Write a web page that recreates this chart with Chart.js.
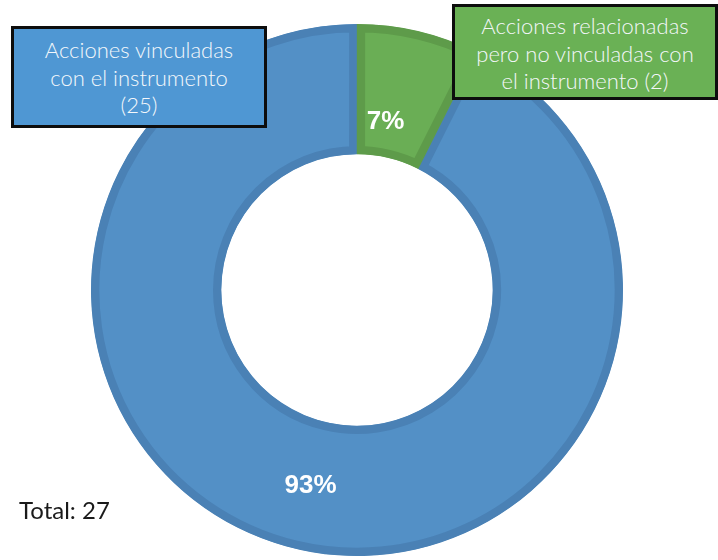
<!DOCTYPE html>
<html>
<head>
<meta charset="utf-8">
<script src="https://cdn.jsdelivr.net/npm/chart.js@4"></script>
<style>
  html, body { margin: 0; padding: 0; background: #fff; }
  #wrap { position: relative; width: 718px; height: 560px; overflow: hidden; }
  canvas { position: absolute; left: 0; top: 0; }
  .caja {
    position: absolute; box-sizing: border-box; border: 3px solid #0d0d0d;
    color: #f4f7fb; font-family: "Lato", "Open Sans", sans-serif; font-weight: 300;
    font-size: 22px; line-height: 27.5px; text-align: center;
  }
  #total {
    position: absolute; left: 19px; top: 495px; font-family: "Lato", "Open Sans", sans-serif;
    font-size: 24px; color: #1a1a1a;
  }
</style>
</head>
<body>
<div id="wrap">
  <canvas id="dona" width="718" height="560"></canvas>
  <div class="caja" id="caja0" style="left:11px;top:26px;width:256px;height:102px;padding-top:7px;background:#4f97d3;"></div>
  <div class="caja" id="caja1" style="left:452px;top:4px;width:266px;height:96px;padding-top:5px;background:#6ab155;"></div>
  <div id="total"></div>
</div>
<script>
// ----------------------------
// Datos
// ----------------------------
const categorias = ['Acciones vinculadas con el instrumento', 'Acciones relacionadas pero no vinculadas con el instrumento'];
const etiquetasCaja = [
  ['Acciones vinculadas', 'con el instrumento', '(25)'],
  ['Acciones relacionadas', 'pero no vinculadas con', 'el instrumento (2)']
];
const valores = [25, 2];

const total = valores.reduce((a, b) => a + b, 0);
const porcentajes = valores.map(v => Math.round(v / total * 100) + '%');

// colores de relleno y borde
const relleno = ['#5390c6', '#6aae55'];
const borde = ['#4a81b5', '#5e9b4a'];

// posición de cada porcentaje dentro de su sector (fracción del ángulo y del grosor)
const posAngulo = [0.5, 0.36];
const posRadio = [0.5, 0.27];

// ----------------------------
// Cajas de texto y total
// ----------------------------
etiquetasCaja.forEach((lineas, i) => {
  document.getElementById('caja' + i).innerHTML = lineas.join('<br>');
});
document.getElementById('total').textContent = 'Total: ' + total;

// ----------------------------
// Plugin: porcentajes sobre los sectores
// ----------------------------
const porcentajesPlugin = {
  id: 'porcentajes',
  afterDatasetsDraw(chart) {
    const ctx = chart.ctx;
    const meta = chart.getDatasetMeta(0);
    ctx.save();
    ctx.font = 'bold 26px "Liberation Sans", Arial, sans-serif';
    ctx.fillStyle = '#ffffff';
    ctx.textAlign = 'center';
    ctx.textBaseline = 'middle';
    meta.data.forEach((arc, i) => {
      const p = arc.getProps(['x', 'y', 'startAngle', 'endAngle', 'innerRadius', 'outerRadius'], true);
      const a = p.startAngle + (p.endAngle - p.startAngle) * posAngulo[i];
      const r = p.innerRadius + (p.outerRadius - p.innerRadius) * posRadio[i];
      ctx.fillText(porcentajes[i], p.x + Math.cos(a) * r, p.y + Math.sin(a) * r);
    });
    ctx.restore();
  }
};

// ----------------------------
// Gráfico
// ----------------------------
new Chart(document.getElementById('dona'), {
  type: 'doughnut',
  data: {
    labels: categorias,
    datasets: [{
      data: valores,
      backgroundColor: relleno,
      borderColor: borde,
      borderWidth: 8,
      borderAlign: 'inner'
    }]
  },
  options: {
    responsive: false,
    animation: false,
    cutout: '51%',
    rotation: 26.7,
    circumference: 360,
    layout: { padding: { top: 24, bottom: 4, left: 91, right: 95 } },
    plugins: {
      legend: { display: false },
      tooltip: { enabled: false }
    }
  },
  plugins: [porcentajesPlugin]
});
</script>
</body>
</html>
